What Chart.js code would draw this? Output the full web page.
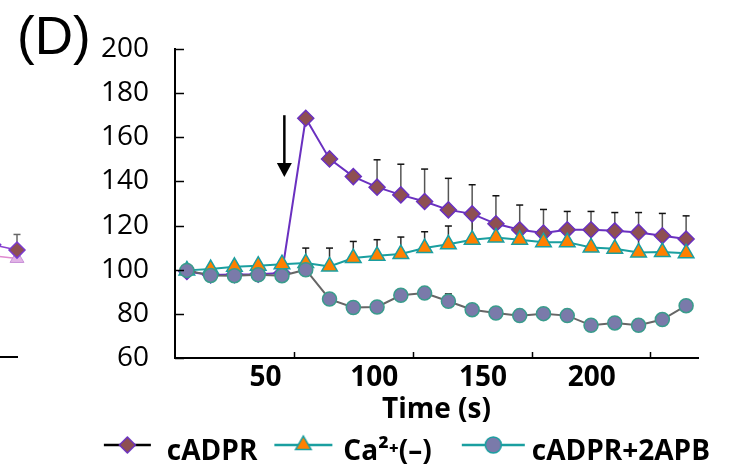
<!DOCTYPE html>
<html><head><meta charset="utf-8">
<script src="https://cdn.jsdelivr.net/npm/chart.js@4.4.1/dist/chart.umd.min.js"></script>
<style>
html,body{margin:0;padding:0;background:#fff;}
#wrap{position:relative;width:734px;height:469px;overflow:hidden;}
#main{position:absolute;left:0;top:0;}
#frag{position:absolute;left:-10px;top:0;}
#lbl{position:absolute;left:17px;top:9px;font-family:"Liberation Sans",Arial,sans-serif;font-size:53px;line-height:1;color:#000;}
</style></head><body>
<div id="wrap">
<canvas id="frag" width="42" height="469"></canvas>
<canvas id="main" width="734" height="469"></canvas>
<div id="lbl">(D)</div>
</div>
<script>
// ---- data ----
const times = [5,15,25,35,45,55,65,75,85,95,105,115,125,135,145,155,165,175,185,195,205,215];
const cadpr = [99.2,97.6,97.8,98.0,98.5,168.6,150.2,142.2,137.4,133.9,130.9,127.1,125.3,120.8,118.1,116.6,118.1,118.1,117.6,116.9,115.4,113.9];
const cadprUpper = [null,null,null,null,null,null,null,null,149.8,147.8,145.6,141.4,138.5,133.5,129.3,127.3,126.4,126.4,125.9,125.9,125.5,124.4];
const caFree = [99.7,100.3,101.3,101.8,102.5,103.0,101.5,105.3,106.3,107.1,109.8,111.5,113.6,114.6,113.6,112.5,112.5,110.1,109.5,107.8,108.0,107.5];
const caFreeUpper = [null,null,null,null,null,109.8,109.8,112.8,113.6,114.8,117.2,119.8,124,119,116,115,117,117,116,115,114,112];
const apb = [99.7,97.4,97.3,97.7,97.3,100.0,86.7,82.9,83.1,88.4,89.4,85.7,81.9,80.4,79.2,80.1,79.2,74.8,75.9,74.8,77.4,83.7];
const apbUpper = [null,null,null,null,null,null,null,null,null,null,null,89.0,null,null,null,null,null,null,null,null,null,null];
const seriesNames = ['cADPR','Ca\u00B2\u207A(\u2013)','\u2002cADPR+2APB\u2002'];
const xTickValues = [50,100,150,200];
const yTickValues = [60,80,100,120,140,160,180,200];
const arrowAt = [46, 170, 142]; // time, start value, tip value
// neighbouring panel fragment (left edge)
const fragTimes = [205,215];
const fragDiamond = [111,108.6];
const fragDiamondUpper = [null,115.7];
const fragTriangle = [106,104.8];

Chart.defaults.font.family = "'Open Sans', sans-serif";
Chart.defaults.color = '#000';

const C = {
  purple:'#6a30c0', diamondFill:'#8e4f52',
  teal:'#1a9fa0', orange:'#ff8000',
  gray:'#666666', circleFill:'#7a7aaa', circleBorder:'#3a9c8c'
};

// legend icon: line with marker; canvas is centred on the 62px legend box,
// icon's right end sits `endOffset` px right of the box's right edge
const BOX = 62, E = 48;
function makeIcon(len, endOffset, lineColor, style, radius, fill, border) {
  const w = BOX + 2 * E;
  const c = document.createElement('canvas');
  c.width = w; c.height = 38;
  const g = c.getContext('2d');
  const x1 = E + BOX + endOffset, x0 = x1 - len;
  g.strokeStyle = lineColor; g.lineWidth = 2.5;
  g.beginPath(); g.moveTo(x0, 12); g.lineTo(x1, 12); g.stroke();
  g.fillStyle = fill; g.strokeStyle = border; g.lineWidth = 1.5;
  Chart.helpers.drawPoint(g, {pointStyle: style, radius: radius, borderWidth: 1.5, rotation: 0}, x0 + len / 2, 12);
  return c;
}
const icons = [
  makeIcon(47, -2, '#000', 'rectRot', 8, C.diamondFill, C.purple),
  makeIcon(58, 3, C.teal, 'triangle', 9, C.orange, C.teal),
  makeIcon(63, 21, C.teal, 'circle', 8, C.circleFill, C.teal)
];

function drawErr(ctx, xs, ys, vals, upper, color) {
  ctx.save();
  ctx.lineWidth = 1.5;
  for (let i = 0; i < vals.length; i++) {
    if (upper[i] == null) continue;
    const px = xs.getPixelForValue(times[i]);
    const p0 = ys.getPixelForValue(vals[i]);
    const p1 = ys.getPixelForValue(upper[i]);
    ctx.strokeStyle = color;
    ctx.beginPath(); ctx.moveTo(px, p0); ctx.lineTo(px, p1); ctx.stroke();
    ctx.strokeStyle = '#111';
    ctx.beginPath(); ctx.moveTo(px - 3.5, p1); ctx.lineTo(px + 3.5, p1); ctx.stroke();
  }
  ctx.restore();
}

const errPlugin = {
  id: 'errBars',
  beforeDatasetsDraw(chart) {
    const {ctx, scales: {x, y}} = chart;
    drawErr(ctx, x, y, apb, apbUpper, '#333');
    drawErr(ctx, x, y, caFree, caFreeUpper, '#333');
    drawErr(ctx, x, y, cadpr, cadprUpper, '#555');
  }
};

const tickPlugin = {
  id: 'innerTicks',
  afterDraw(chart) {
    const {ctx, chartArea: a, scales: {x, y}} = chart;
    ctx.save();
    ctx.strokeStyle = '#000'; ctx.lineWidth = 1.5;
    yTickValues.forEach(v => {
      const py = Math.round(y.getPixelForValue(v)) + 0.5;
      ctx.beginPath(); ctx.moveTo(a.left, py); ctx.lineTo(a.left + 9, py); ctx.stroke();
    });
    xTickValues.forEach(v => {
      const px = Math.round(x.getPixelForValue(v)) + 0.5;
      ctx.beginPath(); ctx.moveTo(px, a.bottom); ctx.lineTo(px, a.bottom - 6); ctx.stroke();
    });
    ctx.restore();
  }
};

const arrowPlugin = {
  id: 'arrow',
  afterDatasetsDraw(chart) {
    const {ctx, scales: {x, y}} = chart;
    const px = x.getPixelForValue(arrowAt[0]);
    const p0 = y.getPixelForValue(arrowAt[1]);
    const p1 = y.getPixelForValue(arrowAt[2]);
    ctx.save();
    ctx.strokeStyle = '#000'; ctx.fillStyle = '#000'; ctx.lineWidth = 2.5;
    ctx.beginPath(); ctx.moveTo(px, p0); ctx.lineTo(px, p1 - 12); ctx.stroke();
    ctx.beginPath(); ctx.moveTo(px - 7.5, p1 - 14); ctx.lineTo(px + 7.5, p1 - 14); ctx.lineTo(px, p1); ctx.closePath(); ctx.fill();
    ctx.restore();
  }
};

new Chart(document.getElementById('main'), {
  type: 'line',
  data: {
    datasets: [
      { label: seriesNames[0], data: times.map((t, i) => ({x: t, y: cadpr[i]})), order: 3,
        borderColor: C.purple, borderWidth: 2, backgroundColor: C.diamondFill,
        pointStyle: 'rectRot', pointRadius: 8, pointBackgroundColor: C.diamondFill,
        pointBorderColor: C.purple, pointBorderWidth: 1.5, tension: 0 },
      { label: seriesNames[1], data: times.map((t, i) => ({x: t, y: caFree[i]})), order: 2,
        borderColor: C.teal, borderWidth: 2, backgroundColor: C.orange,
        pointStyle: 'triangle', pointRadius: 9, pointBackgroundColor: C.orange,
        pointBorderColor: C.teal, pointBorderWidth: 1.5, tension: 0 },
      { label: seriesNames[2], data: times.map((t, i) => ({x: t, y: apb[i]})), order: 1,
        borderColor: C.gray, borderWidth: 2, backgroundColor: C.circleFill,
        pointStyle: 'circle', pointRadius: 7, pointBackgroundColor: C.circleFill,
        pointBorderColor: C.circleBorder, pointBorderWidth: 1.5, tension: 0 }
    ]
  },
  options: {
    responsive: false, animation: false, devicePixelRatio: 1,
    layout: { padding: { left: 0, right: 0, top: 49, bottom: -7 } },
    plugins: {
      tooltip: { enabled: false },
      legend: {
        position: 'bottom', align: 'end',
        labels: {
          usePointStyle: true, pointStyleWidth: BOX, padding: 10,
          font: { size: 28, weight: 'bold' }, color: '#000',
          generateLabels: () => seriesNames.map((n, i) => ({
            text: n, pointStyle: icons[i], fillStyle: 'rgba(0,0,0,0)', strokeStyle: 'rgba(0,0,0,0)',
            lineWidth: 0, hidden: false, datasetIndex: i, fontColor: '#000'
          }))
        }
      }
    },
    scales: {
      x: {
        type: 'linear', position: 'bottom', min: 0, max: 220, weight: 0,
        ticks: { display: false },
        grid: { display: false, drawTicks: false },
        border: { display: true, color: '#000', width: 2 }
      },
      x2: {
        type: 'linear', position: 'bottom', min: 8.34, max: 248.8, weight: 1,
        afterBuildTicks: s => { s.ticks = xTickValues.map(v => ({value: v})); },
        afterFit: s => { s.height = 70; },
        ticks: { font: { size: 28, weight: 'bold' }, color: '#000', padding: 3, maxRotation: 0 },
        grid: { display: false, drawTicks: false },
        border: { display: false },
        title: { display: true, text: 'Time (s)', font: { size: 28, weight: 'bold' }, color: '#000', padding: { top: 0, bottom: 1 } }
      },
      y: {
        type: 'linear', min: 60, max: 200,
        afterBuildTicks: s => { s.ticks = yTickValues.map(v => ({value: v})); },
        afterFit: s => { s.width = 175; },
        ticks: { font: { size: 28 }, color: '#000', padding: 26 },
        grid: { display: false, drawTicks: false },
        border: { display: true, color: '#000', width: 2 }
      },
      spacer: {
        type: 'linear', position: 'right', display: true,
        afterFit: s => { s.width = 36; },
        ticks: { display: false },
        grid: { display: false, drawTicks: false },
        border: { display: false }
      }
    }
  },
  plugins: [errPlugin, tickPlugin, arrowPlugin]
});

// fragment of the neighbouring panel at the left edge
const fragErr = {
  id: 'fragErr',
  beforeDatasetsDraw(chart) {
    const {ctx, scales: {x, y}} = chart;
    ctx.save(); ctx.lineWidth = 1.5;
    fragDiamond.forEach((v, i) => {
      if (fragDiamondUpper[i] == null) return;
      const px = x.getPixelForValue(fragTimes[i]);
      const p0 = y.getPixelForValue(v), p1 = y.getPixelForValue(fragDiamondUpper[i]);
      ctx.strokeStyle = '#666';
      ctx.beginPath(); ctx.moveTo(px, p0); ctx.lineTo(px, p1); ctx.stroke();
      ctx.beginPath(); ctx.moveTo(px - 3.5, p1); ctx.lineTo(px + 3.5, p1); ctx.stroke();
    });
    ctx.restore();
  }
};
new Chart(document.getElementById('frag'), {
  type: 'line',
  data: {
    datasets: [
      { data: fragTimes.map((t, i) => ({x: t, y: fragDiamond[i]})), clip: false,
        borderColor: '#8a40d0', borderWidth: 1.5, pointStyle: 'rectRot', pointRadius: 8,
        pointBackgroundColor: C.diamondFill, pointBorderColor: '#7a3ad0', pointBorderWidth: 1.5 },
      { data: fragTimes.map((t, i) => ({x: t, y: fragTriangle[i]})), clip: false,
        borderColor: '#e08ad0', borderWidth: 1.5, pointStyle: 'triangle', pointRadius: 8,
        pointBackgroundColor: '#e2b4e6', pointBorderColor: '#c890d8', pointBorderWidth: 1 }
    ]
  },
  options: {
    responsive: false, animation: false, devicePixelRatio: 1,
    layout: { padding: { left: 0, right: 15, top: 49, bottom: 112 } },
    plugins: { legend: { display: false }, tooltip: { enabled: false } },
    scales: {
      x: { type: 'linear', min: 207.8, max: 215, ticks: { display: false },
           grid: { display: false, drawTicks: false }, border: { display: true, color: '#000', width: 2 } },
      y: { type: 'linear', min: 60, max: 200, display: false }
    }
  },
  plugins: [fragErr]
});
</script>
</body></html>
